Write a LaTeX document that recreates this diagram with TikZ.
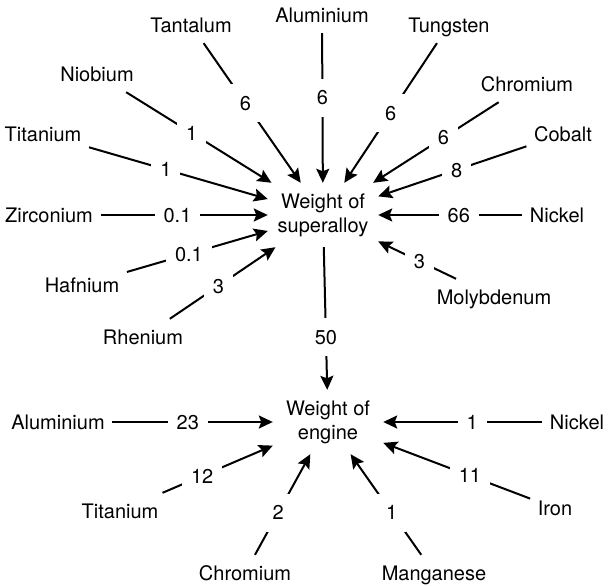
\documentclass[tikz,border=0pt]{standalone}
\usepackage{fontspec}
\setmainfont{TeX Gyre Heros}
\usetikzlibrary{arrows.meta}
\begin{document}
\begin{tikzpicture}[x=1pt,y=-1pt,
  txt/.style={font=\fontsize{20}{24}\selectfont, text=black},
  lbl/.style={txt, inner xsep=7.5pt, inner ysep=0pt, minimum height=36pt, text height=14.4pt, text depth=0pt},
  hub/.style={txt, minimum width=110pt, minimum height=64pt, inner sep=0pt, align=center},
  elab/.style={txt, fill=white, inner xsep=9pt, inner ysep=0pt, minimum height=38pt, text height=14.4pt, text depth=0pt},
  conn/.style={line width=2pt, draw=black, -{Stealth[length=14pt,width=13pt,inset=2.5pt]}}
]
\useasboundingbox (0,0) rectangle (609,585);

% hubs
\node[hub] (S) at (323,215) {Weight of\\superalloy};
\node[hub] (E) at (328,422) {Weight of\\engine};

% top sources
\node[lbl] (AlT) at (322,15) {Aluminium};
\node[lbl] (Ta) at (191,25) {Tantalum};
\node[lbl] (W) at (449,25) {Tungsten};
\node[lbl] (Nb) at (97,74) {Niobium};
\node[lbl] (CrT) at (527,84) {Chromium};
\node[lbl] (TiT) at (43,134) {Titanium};
\node[lbl] (Co) at (563,134) {Cobalt};
\node[lbl] (Zr) at (49,215) {Zirconium};
\node[lbl] (NiT) at (557,215) {Nickel};
\node[lbl] (Hf) at (82,285) {Hafnium};
\node[lbl] (Mo) at (494,297) {Molybdenum};
\node[lbl] (Re) at (143,337) {Rhenium};

% bottom sources
\node[lbl] (AlB) at (58,422) {Aluminium};
\node[lbl] (NiB) at (577,422) {Nickel};
\node[lbl] (TiB) at (120,511) {Titanium};
\node[lbl] (Fe) at (555,508) {Iron};
\node[lbl] (CrB) at (245,573) {Chromium};
\node[lbl] (Mn) at (434,573) {Manganese};

% top connectors
\draw[conn] (AlT) -- node[elab,pos=0.43] {6} (S);
\draw[conn] (Ta) -- node[elab,pos=0.43] {6} (S);
\draw[conn] (W) -- node[elab,pos=0.50] {6} (S);
\draw[conn] (Nb) -- node[elab,pos=0.45] {1} (S);
\draw[conn] (CrT) -- node[elab,pos=0.44] {6} (S);
\draw[conn] (TiT) -- node[elab,pos=0.43] {1} (S);
\draw[conn] (Co) -- node[elab,pos=0.47] {8} (S);
\draw[conn] (Zr) -- node[elab,pos=0.46] {0.1} (S);
\draw[conn] (NiT) -- node[elab,pos=0.44] {66} (S);
\draw[conn] (Hf) -- node[elab,pos=0.44] {0.1} (S);
\draw[conn] (Mo) -- node[elab,pos=0.47] {3} (S);
\draw[conn] (Re) -- node[elab,pos=0.46] {3} (S);

% superalloy to engine
\draw[conn] (S) -- node[elab,pos=0.63] {50} (E);

% bottom connectors
\draw[conn] (AlB) -- node[elab,pos=0.47] {23} (E);
\draw[conn] (NiB) -- node[elab,pos=0.44] {1} (E);
\draw[conn] (TiB) -- node[elab,pos=0.36] {12} (E);
\draw[conn] (Fe) -- node[elab,pos=0.41] {11} (E);
\draw[conn] (CrB) -- node[elab,pos=0.42] {2} (E);
\draw[conn] (Mn) -- node[elab,pos=0.42] {1} (E);
\end{tikzpicture}
\end{document}
